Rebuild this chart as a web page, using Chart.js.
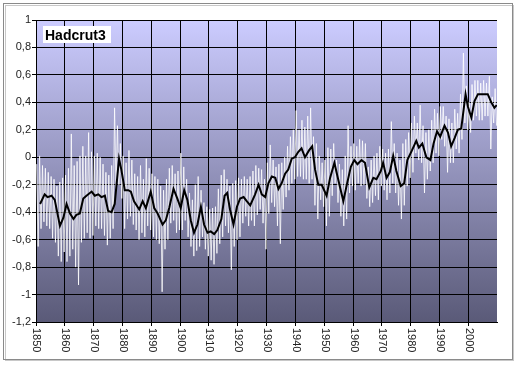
<!DOCTYPE html>
<html lang="en">
<head>
    <meta charset="UTF-8">
    <title>Hadcrut3</title>
    <script src="https://cdn.jsdelivr.net/npm/chart.js@4.4.0/dist/chart.umd.min.js"></script>
    <style>
        body {
            margin: 0;
            background: #ffffff;
        }
    </style>
</head>
<body>
    <canvas id="tempChart" width="518" height="365"></canvas>

    <script>
        // decade labels on the category axis
        const tickYears = [1850, 1860, 1870, 1880, 1890, 1900, 1910, 1920, 1930, 1940, 1950, 1960, 1970, 1980, 1990, 2000];
        const firstYear = 1850;

        // monthly series (white): upper and lower swing read per year, 1850..2009
        const monthlyHigh = [
            -0.05, 0.01, -0.06, -0.08, -0.11, -0.14, -0.16, -0.21, -0.18, -0.15,
            -0.13, -0.08, 0.17, -0.06, -0.03, 0.01, 0.08, 0.01, 0.18, 0.04,
            0.01, 0.03, 0.00, -0.05, -0.11, -0.13, -0.06, 0.36, 0.23, 0.10,
            0.01, -0.04, 0.05, -0.02, -0.12, -0.14, -0.06, -0.16, -0.01, -0.08,
            -0.12, -0.14, -0.16, -0.21, -0.24, -0.16, -0.08, -0.06, -0.12, -0.10,
            0.03, -0.07, -0.16, -0.26, -0.31, -0.20, -0.14, -0.24, -0.33, -0.36,
            -0.38, -0.37, -0.36, -0.23, -0.13, -0.09, -0.16, -0.21, -0.19, -0.17,
            -0.15, -0.16, -0.14, -0.16, -0.14, -0.10, -0.06, -0.08, -0.09, -0.16,
            -0.04, 0.09, -0.02, -0.07, -0.05, -0.04, 0.00, 0.08, 0.15, 0.20,
            0.34, 0.20, 0.27, 0.22, 0.30, 0.36, 0.15, 0.10, 0.01, -0.04,
            -0.02, 0.07, 0.06, 0.10, -0.02, -0.05, -0.09, 0.01, 0.23, 0.08,
            0.10, 0.08, 0.13, 0.12, 0.10, -0.07, -0.02, 0.01, 0.03, 0.08,
            0.06, 0.03, 0.06, 0.26, 0.10, 0.03, -0.02, 0.10, 0.13, 0.18,
            0.25, 0.30, 0.25, 0.38, 0.23, 0.18, 0.20, 0.27, 0.35, 0.32,
            0.37, 0.37, 0.30, 0.28, 0.25, 0.35, 0.32, 0.46, 0.76, 0.52,
            0.40, 0.53, 0.56, 0.56, 0.54, 0.56, 0.54, 0.59, 0.44, 0.50
        ];
        const monthlyLow = [
            -0.65, -0.52, -0.47, -0.50, -0.52, -0.59, -0.62, -0.72, -0.76, -0.69,
            -0.76, -0.72, -0.67, -0.80, -0.93, -0.62, -0.59, -0.55, -0.59, -0.57,
            -0.50, -0.52, -0.52, -0.57, -0.64, -0.59, -0.52, -0.23, -0.20, -0.30,
            -0.52, -0.45, -0.43, -0.49, -0.53, -0.60, -0.55, -0.58, -0.50, -0.53,
            -0.58, -0.60, -0.63, -0.98, -0.67, -0.60, -0.48, -0.46, -0.55, -0.53,
            -0.53, -0.46, -0.58, -0.65, -0.72, -0.68, -0.65, -0.58, -0.67, -0.72,
            -0.75, -0.78, -0.70, -0.63, -0.58, -0.50, -0.55, -0.82, -0.65, -0.60,
            -0.58, -0.48, -0.43, -0.50, -0.46, -0.50, -0.42, -0.38, -0.48, -0.67,
            -0.41, -0.33, -0.36, -0.50, -0.63, -0.38, -0.29, -0.24, -0.19, -0.16,
            -0.14, -0.14, -0.16, -0.16, -0.19, -0.16, -0.35, -0.45, -0.31, -0.36,
            -0.50, -0.43, -0.28, -0.19, -0.33, -0.43, -0.50, -0.45, -0.26, -0.21,
            -0.24, -0.19, -0.21, -0.20, -0.30, -0.36, -0.33, -0.28, -0.31, -0.21,
            -0.24, -0.31, -0.26, -0.19, -0.26, -0.35, -0.45, -0.35, -0.21, -0.15,
            -0.11, 0.03, -0.02, -0.04, -0.26, -0.16, -0.10, -0.04, 0.03, 0.01,
            0.13, 0.08, -0.11, -0.04, -0.04, 0.06, 0.03, 0.13, 0.25, 0.20,
            0.18, 0.27, 0.30, 0.27, 0.27, 0.30, 0.30, 0.06, 0.25, 0.23
        ];

        // smoothed series (black)
        const smoothYears = [
            1851.4, 1853.0, 1854.0, 1855.4, 1856.5, 1858.3, 1859.5, 1860.6, 1861.8, 1863.0,
            1864.0, 1865.2, 1866.4, 1867.5, 1869.3, 1870.4, 1871.6, 1872.7, 1873.9, 1875.0,
            1876.2, 1877.3, 1878.8, 1879.6, 1880.8, 1882.0, 1882.9, 1884.0, 1885.8, 1887.0,
            1888.1, 1889.8, 1891.0, 1892.2, 1893.9, 1895.0, 1896.2, 1897.7, 1899.0, 1900.2,
            1901.4, 1902.5, 1903.7, 1904.8, 1906.0, 1907.2, 1908.3, 1909.5, 1910.6, 1911.8,
            1912.9, 1914.3, 1915.4, 1916.3, 1917.3, 1918.5, 1919.7, 1920.8, 1922.0, 1923.1,
            1924.3, 1926.0, 1927.2, 1928.3, 1929.5, 1930.6, 1931.8, 1933.0, 1934.1, 1935.2,
            1936.4, 1937.5, 1938.7, 1939.8, 1941.0, 1942.1, 1943.3, 1944.7, 1945.8, 1946.8,
            1947.9, 1949.1, 1950.8, 1952.0, 1953.5, 1954.8, 1956.6, 1957.7, 1959.2, 1960.4,
            1961.5, 1962.9, 1964.1, 1965.6, 1967.0, 1968.1, 1969.6, 1970.4, 1971.6, 1972.7,
            1973.9, 1975.0, 1976.5, 1977.7, 1978.8, 1980.4, 1981.9, 1982.8, 1984.0, 1985.4,
            1986.8, 1987.9, 1989.1, 1990.2, 1991.7, 1992.9, 1994.0, 1995.2, 1996.3, 1997.5,
            1999.0, 1999.8, 2001.0, 2002.1, 2003.3, 2004.4, 2005.6, 2006.7, 2007.9, 2009.0,
            2009.8
        ];
        const smoothValues = [
            -0.34, -0.27, -0.29, -0.28, -0.31, -0.50, -0.44, -0.34, -0.41, -0.45,
            -0.42, -0.41, -0.30, -0.28, -0.25, -0.28, -0.27, -0.29, -0.28, -0.39,
            -0.40, -0.34, -0.01, -0.09, -0.24, -0.24, -0.25, -0.32, -0.38, -0.32,
            -0.37, -0.25, -0.37, -0.41, -0.49, -0.46, -0.37, -0.23, -0.30, -0.37,
            -0.24, -0.31, -0.46, -0.55, -0.49, -0.36, -0.49, -0.55, -0.54, -0.56,
            -0.53, -0.45, -0.28, -0.26, -0.38, -0.49, -0.36, -0.30, -0.29, -0.32,
            -0.35, -0.27, -0.20, -0.27, -0.29, -0.19, -0.14, -0.15, -0.23, -0.19,
            -0.12, -0.09, -0.01, 0.00, 0.04, 0.065, 0.00, 0.05, 0.08, -0.09,
            -0.20, -0.20, -0.28, -0.15, -0.04, -0.16, -0.32, -0.21, -0.07, -0.02,
            -0.05, -0.02, -0.04, -0.22, -0.15, -0.16, -0.10, -0.04, -0.15, -0.11,
            0.01, -0.10, -0.21, -0.19, -0.02, 0.05, 0.12, 0.07, 0.10, 0.00,
            -0.02, 0.10, 0.19, 0.15, 0.23, 0.18, 0.08, 0.14, 0.20, 0.21,
            0.46, 0.37, 0.29, 0.41, 0.46, 0.46, 0.46, 0.46, 0.40, 0.36,
            0.38
        ];

        const monthlyPoints = [];
        monthlyHigh.forEach((hi, i) => {
            monthlyPoints.push({ x: firstYear + i + 0.25, y: hi });
            monthlyPoints.push({ x: firstYear + i + 0.75, y: monthlyLow[i] });
        });
        const smoothPoints = smoothYears.map((yr, i) => ({ x: yr, y: smoothValues[i] }));

        const fontFamily = '"Liberation Sans", Arial, sans-serif';

        const frameAndBackground = {
            id: 'frameAndBackground',
            beforeDraw(chart) {
                const { ctx, chartArea } = chart;
                ctx.save();
                ctx.fillStyle = '#ffffff';
                ctx.fillRect(0, 0, chart.width, chart.height);
                // outer frame with a light shadow
                ctx.strokeStyle = '#c8c8c8';
                ctx.lineWidth = 1;
                ctx.strokeRect(5.5, 5.5, 508, 355);
                ctx.strokeStyle = '#8a8a8a';
                ctx.strokeRect(3.5, 3.5, 509, 356);
                // plot area gradient
                const grad = ctx.createLinearGradient(0, chartArea.top, 0, chartArea.bottom);
                grad.addColorStop(0, '#ccccff');
                grad.addColorStop(1, '#5a5a78');
                ctx.fillStyle = grad;
                ctx.fillRect(chartArea.left, chartArea.top, chartArea.right - chartArea.left, chartArea.bottom - chartArea.top);
                ctx.restore();
            },
            afterDraw(chart) {
                const { ctx, chartArea } = chart;
                const xs = chart.scales.x;
                ctx.save();
                // decade labels, rotated to read top to bottom
                ctx.font = '11px ' + fontFamily;
                ctx.fillStyle = '#222222';
                ctx.textAlign = 'left';
                ctx.textBaseline = 'middle';
                tickYears.forEach(yr => {
                    const px = xs.getPixelForValue(yr);
                    ctx.save();
                    ctx.translate(px + 0.5, xs.top + 6);
                    ctx.rotate(Math.PI / 2);
                    ctx.fillText(String(yr), 0, 0);
                    ctx.restore();
                });
                // title box
                ctx.fillStyle = '#ffffff';
                ctx.fillRect(chartArea.left + 7, chartArea.top + 6, 68, 17);
                ctx.fillStyle = '#000000';
                ctx.font = 'bold 14px ' + fontFamily;
                ctx.textBaseline = 'alphabetic';
                ctx.fillText('Hadcrut3', chartArea.left + 9, chartArea.top + 20);
                ctx.restore();
            }
        };

        new Chart(document.getElementById('tempChart'), {
            type: 'line',
            data: {
                datasets: [
                    {
                        label: 'Smoothed',
                        data: smoothPoints,
                        borderColor: '#000000',
                        borderWidth: 2,
                        pointRadius: 0,
                        tension: 0,
                        order: 0
                    },
                    {
                        label: 'Hadcrut3',
                        data: monthlyPoints,
                        borderColor: 'rgba(255, 255, 255, 0.8)',
                        borderWidth: 1,
                        pointRadius: 0,
                        tension: 0,
                        order: 1
                    }
                ]
            },
            options: {
                responsive: false,
                animation: false,
                layout: { padding: { top: 20, right: 21, left: 0, bottom: 0 } },
                plugins: {
                    legend: { display: false },
                    tooltip: { enabled: false }
                },
                scales: {
                    x: {
                        type: 'linear',
                        min: 1850,
                        max: 2009.9,
                        afterBuildTicks: s => { s.ticks = tickYears.map(v => ({ value: v })); },
                        afterFit: s => { s.height = 43; },
                        ticks: { display: false },
                        grid: { color: '#000000', tickLength: 4 },
                        border: { color: '#000000' }
                    },
                    y: {
                        min: -1.2,
                        max: 1,
                        afterFit: s => { s.width = 36; },
                        ticks: {
                            stepSize: 0.2,
                            padding: 1,
                            color: '#222222',
                            font: { family: fontFamily, size: 11 },
                            callback: v => String(Math.round(v * 10) / 10).replace('.', ',')
                        },
                        grid: { color: '#000000', tickLength: 4 },
                        border: { color: '#000000' }
                    }
                }
            },
            plugins: [frameAndBackground]
        });
    </script>
</body>
</html>
